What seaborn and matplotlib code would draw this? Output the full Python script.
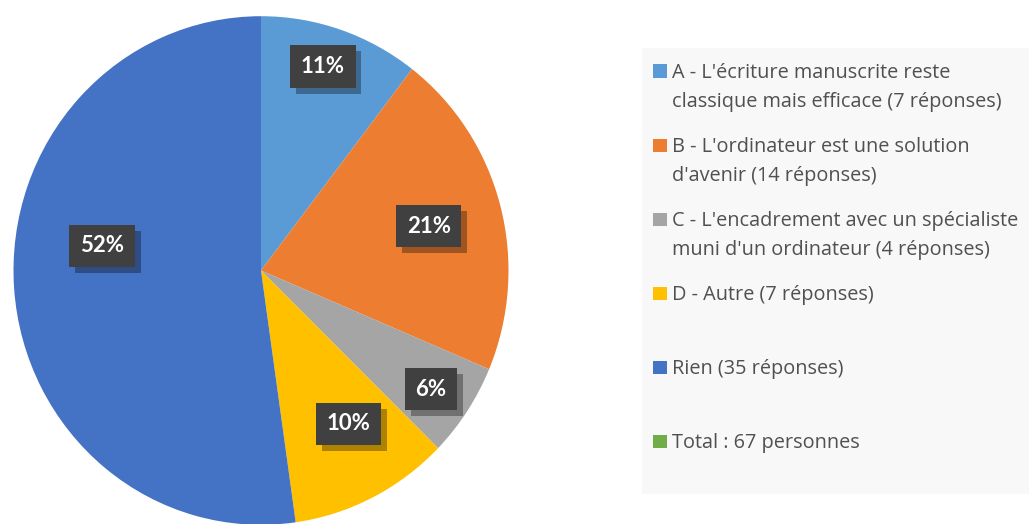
import matplotlib
matplotlib.use("Agg")
import matplotlib.pyplot as plt
import matplotlib.patheffects as pe
from matplotlib.patches import Rectangle
import numpy as np
import seaborn as sns

# Survey answers
categories = [
    "A - L'écriture manuscrite reste\nclassique mais efficace",
    "B - L'ordinateur est une solution\nd'avenir",
    "C - L'encadrement avec un spécialiste\nmuni d'un ordinateur",
    "D - Autre",
    "Rien",
]
counts = [7, 14, 4, 7, 35]
pct_labels = ["11%", "21%", "6%", "10%", "52%"]

colors = ["#5B9BD5", "#ED7D31", "#A5A5A5", "#FFC000", "#4472C4"]
total_color = "#70AD47"

# label placement: radial distance and angular nudge (degrees) from slice middle
label_dist = [0.84, 0.70, 0.83, 0.70, 0.65]
label_nudge = [1.5, -0.4, -0.6, 3.6, -12.6]

sns.set_theme(style="white")
plt.rcParams["font.family"] = ["Lato", "DejaVu Sans"]

W, H = 1029, 524
fig = plt.figure(figsize=(W / 100, H / 100), dpi=100)
fig.patch.set_facecolor("white")

# pie area (pixel geometry converted to figure fractions)
cx, cy, rx, ry = 261.0, 270.5, 247.5, 254.3
ax = fig.add_axes([(cx - rx) / W, (H - (cy + ry)) / H, 2 * rx / W, 2 * ry / H])
wedges, _ = ax.pie(counts, colors=colors, startangle=90, counterclock=False,
                   wedgeprops=dict(linewidth=0))
ax.set_aspect("auto")
ax.set_xlim(-1, 1)
ax.set_ylim(-1, 1)
ax.axis("off")

box_shadow = [pe.SimplePatchShadow(offset=(4.3, -4.3), shadow_rgbFace="black", alpha=0.32),
              pe.Normal()]
for w, lab, d, nudge in zip(wedges, pct_labels, label_dist, label_nudge):
    theta = np.deg2rad((w.theta1 + w.theta2) / 2 + nudge)
    x, y = d * np.cos(theta), d * np.sin(theta)
    t = ax.text(x, y, lab, ha="center", va="center", fontsize=16,
                fontweight="bold", color="white",
                bbox=dict(boxstyle="square,pad=0.48", fc="#404040", ec="none"))
    t.get_bbox_patch().set_path_effects(box_shadow)

# legend panel
fig.add_artist(Rectangle((642 / W, (H - 494) / H), (W - 642) / W + 0.01, (494 - 48) / H,
                         transform=fig.transFigure, fc="#F8F8F8", ec="none", zorder=0))

entries = [f"{c} ({n} réponses)" for c, n in zip(categories, counts)]
entries.append(f"Total : {sum(counts)} personnes")
entry_colors = colors + [total_color]

for i, (txt, col) in enumerate(zip(entries, entry_colors)):
    base = 78 + 74 * i
    fig.add_artist(Rectangle((653 / W, (H - base) / H), 14 / W, 13.5 / H,
                             transform=fig.transFigure, fc=col, ec="none"))
    for j, line in enumerate(txt.split("\n")):
        fig.text(672 / W, (H - (base + 28.5 * j)) / H, line, ha="left",
                 va="baseline", fontsize=14.3, color="#505050",
                 family=["Open Sans", "DejaVu Sans"])

fig.savefig("out.png", dpi=100, facecolor="white")
